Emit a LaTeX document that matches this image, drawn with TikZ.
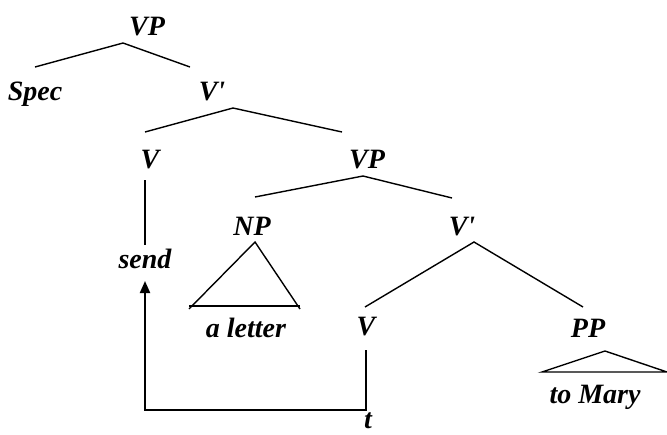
\documentclass[tikz,border=0pt]{standalone}
\usepackage{fontspec}
\setmainfont{Liberation Serif}
\usetikzlibrary{arrows.meta}
\begin{document}
\begin{tikzpicture}[x=1pt,y=-1pt,
  lbl/.style={anchor=base,inner sep=0pt,font=\fontsize{28}{30}\selectfont\bfseries\itshape},
  branch/.style={line width=1.4pt},
  move/.style={line width=2pt}]
\useasboundingbox (0,0) rectangle (667,434);
% labels
\node[lbl] (vp1) at (147,35) {VP};
\node[lbl] (spec) at (35,100) {Spec};
\node[lbl] (vb1) at (212,100) {V\textquotesingle};
\node[lbl] (v1) at (150,168) {V};
\node[lbl] (vp2) at (367,168) {VP};
\node[lbl] (np) at (252,235) {NP};
\node[lbl] (vb2) at (462,235) {V\textquotesingle};
\node[lbl] (send) at (145,268) {send};
\node[lbl] (alet) at (246,337) {a letter};
\node[lbl] (v2) at (366,335) {V};
\node[lbl] (pp) at (588,337) {PP};
\node[lbl] (mary) at (595,403) {to Mary};
\node[lbl] (t) at (368,428) {t};
% branch points
\coordinate (a1) at (123,43); \coordinate (a1l) at (35,67); \coordinate (a1r) at (190,67);
\coordinate (a2) at (233,108); \coordinate (a2l) at (145,132); \coordinate (a2r) at (342,132);
\coordinate (a3) at (363,176); \coordinate (a3l) at (255,197); \coordinate (a3r) at (452,198);
\coordinate (a4) at (474,242); \coordinate (a4l) at (365,307); \coordinate (a4r) at (583,307);
\coordinate (n1) at (255,242); \coordinate (n1l) at (189,309); \coordinate (n1r) at (300,309);
\coordinate (p1) at (605,351); \coordinate (p1l) at (542,372); \coordinate (p1r) at (667,372);
\draw[branch] (a1l) -- (a1) -- (a1r);
\draw[branch] (a2l) -- (a2) -- (a2r);
\draw[branch] (a3l) -- (a3) -- (a3r);
\draw[branch] (a4l) -- (a4) -- (a4r);
\draw[branch] (n1l) -- (n1) -- (n1r);
\draw[branch] ([yshift=3pt]n1l) -- ([yshift=3pt]n1r);
\draw[branch] (p1l) -- (p1) -- (p1r) -- cycle;
% head movement
\coordinate (v1b) at (145,180); \coordinate (sendt) at (145,245);
\draw[move] (v1b) -- (sendt);
\coordinate (v2b) at (366,350); \coordinate (corner) at (366,410);
\coordinate (lcorner) at (145,410); \coordinate (tip) at (145,281);
\draw[move,-{Triangle[length=12pt,width=10pt]}] (v2b) -- (corner) -- (lcorner) -- (tip);
\end{tikzpicture}
\end{document}
